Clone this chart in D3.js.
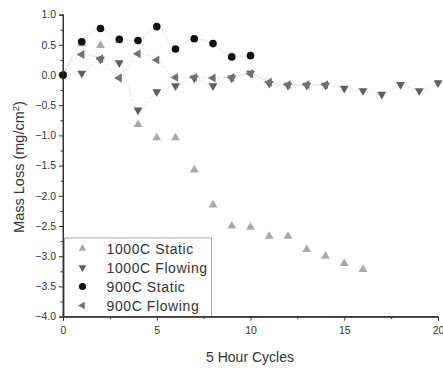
<!DOCTYPE html>
<html>
<head>
<meta charset="utf-8">
<script src="https://cdn.jsdelivr.net/npm/d3@7"></script>
<style>
  body { margin: 0; background: #fff; }
  svg { display: block; font-family: "Liberation Sans", Arial, sans-serif; }
</style>
</head>
<body>
<div id="chart"></div>
<script>
// values (x = cycle index starting at 0)
const static1000 = [0, 0.52, 0.49, 0.57, -0.82, -1.04, -1.04, -1.57, -2.15, -2.5, -2.52, -2.67, -2.67, -2.89, -3.0, -3.12, -3.22];
const flowing1000 = [0, 0.03, 0.26, 0.2, -0.58, -0.28, -0.18, -0.05, -0.18, -0.05, 0.03, -0.14, -0.17, -0.17, -0.17, -0.22, -0.26, -0.32, -0.16, -0.26, -0.13];
const static900 = [0, 0.55, 0.77, 0.59, 0.57, 0.8, 0.43, 0.6, 0.52, 0.3, 0.32];
const flowing900 = [0, 0.34, 0.27, -0.05, 0.35, 0.25, -0.04, -0.04, -0.05, -0.04, 0.02, -0.12, -0.16, -0.16, -0.16];

const xTicks = [0, 5, 10, 15, 20];
const yTicks = [1.0, 0.5, 0.0, -0.5, -1.0, -1.5, -2.0, -2.5, -3.0, -3.5, -4.0];
const seriesNames = ["1000C Static", "1000C Flowing", "900C Static", "900C Flowing"];

const width = 443, height = 368;
const margin = {top: 14.6, right: 5, bottom: 51.4, left: 63};

const svg = d3.select("#chart").append("svg")
  .attr("width", width)
  .attr("height", height);

const x = d3.scaleLinear().domain([0, 20]).range([margin.left, width - margin.right]);
const y = d3.scaleLinear().domain([-4, 1]).range([height - margin.bottom, margin.top]);

// series styles
const series = [
  {name: seriesNames[0], data: static1000, symbol: d3.symbolTriangle, rot: 0, color: "#a9a9a9", line: null},
  {name: seriesNames[1], data: flowing1000, symbol: d3.symbolTriangle, rot: 180, color: "#5e5e5e", line: "#e4e4e4"},
  {name: seriesNames[3], data: flowing900, symbol: d3.symbolTriangle, rot: -90, color: "#717171", line: "#e0e0e0"},
  {name: seriesNames[2], data: static900, symbol: d3.symbolCircle, rot: 0, color: "#111", line: "#e8e8e8"}
];

// faint connecting lines
const line = d3.line().x((d, i) => x(i)).y(d => y(d)).curve(d3.curveMonotoneX);
series.forEach(s => {
  if (!s.line) return;
  svg.append("path")
    .datum(s.data)
    .attr("d", line)
    .attr("fill", "none")
    .attr("stroke", s.line)
    .attr("stroke-width", 1)
    .attr("stroke-dasharray", s.symbol === d3.symbolCircle ? null : "3,2");
});

// axes
svg.append("g")
  .attr("transform", "translate(" + margin.left + ",0)")
  .call(d3.axisLeft(y).tickValues(yTicks).tickFormat(d3.format(".1f")).tickSize(4).tickPadding(3));
svg.append("g")
  .attr("transform", "translate(" + margin.left + ",0)")
  .call(d3.axisLeft(y).tickValues(d3.range(-3.75, 1, 0.5)).tickFormat("").tickSize(2.5));

svg.append("g")
  .attr("transform", "translate(0," + (height - margin.bottom) + ")")
  .call(d3.axisBottom(x).tickValues(xTicks).tickSize(4).tickPadding(6));
svg.append("g")
  .attr("transform", "translate(0," + (height - margin.bottom) + ")")
  .call(d3.axisBottom(x).tickValues([2.5, 7.5, 12.5, 17.5]).tickFormat("").tickSize(2.5));

svg.selectAll(".domain").attr("stroke", "#333");
svg.selectAll(".tick line").attr("stroke", "#333");
svg.selectAll(".tick text").attr("fill", "#333").style("font-size", "10.5px");

// markers
series.forEach(s => {
  const sym = d3.symbol().type(s.symbol).size(s.symbol === d3.symbolCircle ? 46 : 34);
  svg.append("g")
    .selectAll("path")
    .data(s.data)
    .enter()
    .append("path")
      .attr("d", sym)
      .attr("transform", (d, i) => "translate(" + x(i) + "," + y(d) + ") rotate(" + s.rot + ")")
      .attr("fill", s.color);
});

// axis titles
svg.append("text")
  .attr("x", 250)
  .attr("y", 362)
  .attr("text-anchor", "middle")
  .attr("fill", "#333")
  .style("font-size", "14px")
  .text("5 Hour Cycles");

const yt = svg.append("text")
  .attr("transform", "translate(24,167) rotate(-90)")
  .attr("text-anchor", "middle")
  .attr("fill", "#333")
  .style("font-size", "14.5px");
yt.append("tspan").text("Mass Loss (mg/cm");
yt.append("tspan").attr("dy", -5).style("font-size", "9.5px").text("2");
yt.append("tspan").attr("dy", 5).text(")");

// legend
const legX = margin.left + 1.5, legY = 238, legW = 147, legH = height - margin.bottom - legY;
const legend = svg.append("g");
legend.append("rect")
  .attr("x", legX).attr("y", legY)
  .attr("width", legW).attr("height", legH)
  .attr("fill", "#fff")
  .attr("stroke", "#aaa")
  .attr("stroke-width", 1);

const legOrder = [series[0], series[1], series[3], series[2]];
legOrder.forEach((s, i) => {
  const ly = 248.5 + i * 19;
  const sym = d3.symbol().type(s.symbol).size(s.symbol === d3.symbolCircle ? 40 : 26);
  legend.append("path")
    .attr("d", sym)
    .attr("transform", "translate(82.5," + ly + ") rotate(" + s.rot + ")")
    .attr("fill", s.color);
  legend.append("text")
    .attr("x", 106.5)
    .attr("y", ly + 5)
    .attr("fill", "#333")
    .style("font-size", "14px")
    .style("letter-spacing", "0.6px")
    .text(s.name);
});

// redraw axis lines over the legend box edges
svg.append("line")
  .attr("x1", margin.left).attr("x2", width - margin.right)
  .attr("y1", height - margin.bottom).attr("y2", height - margin.bottom)
  .attr("stroke", "#333");
svg.append("line")
  .attr("x1", margin.left).attr("x2", margin.left)
  .attr("y1", margin.top).attr("y2", height - margin.bottom)
  .attr("stroke", "#333");
</script>
</body>
</html>
